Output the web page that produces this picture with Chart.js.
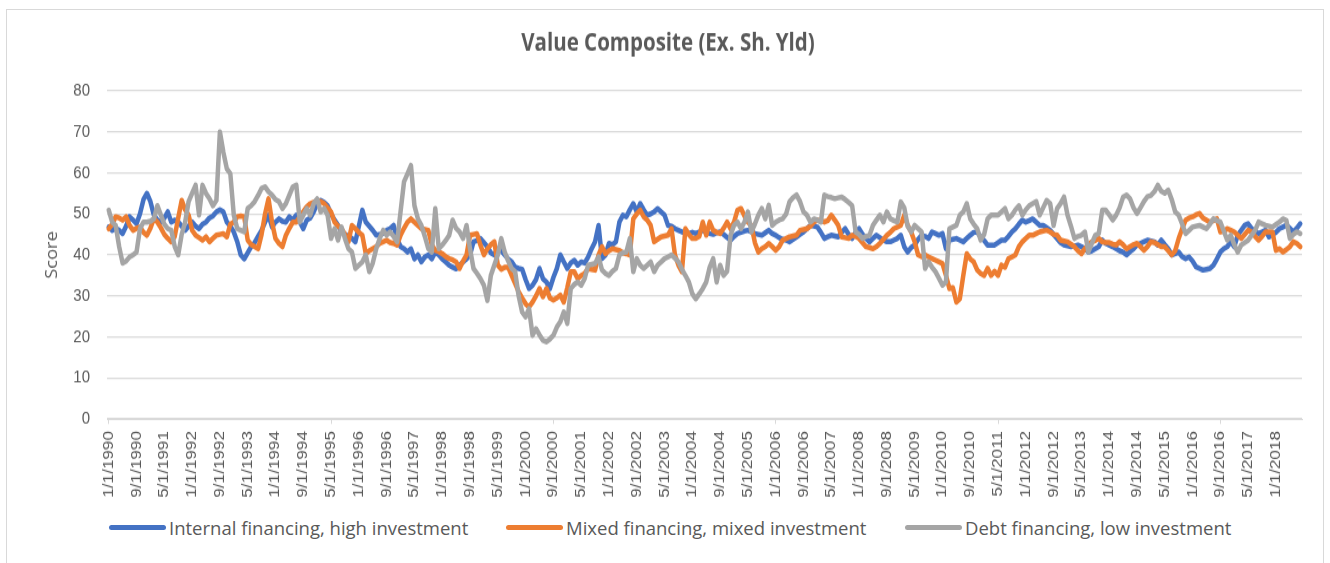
<!DOCTYPE html>
<html lang="en">
  <head>
    <meta charset="UTF-8" />
    <title>Value Composite (Ex. Sh. Yld)</title>
    <style>
      html,
      body {
        margin: 0;
        padding: 0;
        background: #fff;
        width: 1330px;
        height: 563px;
        overflow: hidden;
      }

      .frame {
        position: absolute;
        left: 6px;
        top: 9px;
        width: 1318px;
        height: 580px;
        border: 1px solid #d9d9d9;
        box-sizing: border-box;
      }

      /* the reference is drawn a bit taller than wide, so stretch the canvas */
      .stretch {
        position: absolute;
        left: 0;
        top: 0;
        transform: scaleY(1.18);
        transform-origin: 0 0;
      }

      .legend {
        position: absolute;
        left: 0;
        top: 514px;
        height: 26px;
        font-family: "Open Sans", sans-serif;
        font-size: 18.5px;
        color: #595959;
      }

      .legend-item {
        position: absolute;
        top: 0;
        height: 26px;
        display: flex;
        align-items: center;
        white-space: nowrap;
      }

      .legend-line {
        height: 5px;
        border-radius: 3px;
        margin-right: 3px;
      }
    </style>
  </head>
  <body>
    <div class="frame"></div>
    <div class="stretch">
      <canvas id="valueChart" width="1336" height="430"></canvas>
    </div>
    <div class="legend" id="legend"></div>

    <script src="https://cdn.jsdelivr.net/npm/chart.js"></script>
    <script>
      // monthly scores, 1/1990 .. 8/2018
      const internalHigh = [
        46.8, 46, 46.5, 46, 45.2, 47, 49.3, 48.5, 47.6, 50, 53.5, 55,
        53, 49.7, 48.5, 48, 49, 50.5, 48, 48.5, 48, 47, 46, 47,
        48, 47, 46.4, 47.5, 48, 49, 49.5, 50.5, 51, 50.5, 48, 47,
        45.6, 43.2, 40, 39, 40.5, 42, 43, 44.5, 46, 48, 49.7, 46.8,
        48, 48.8, 48.2, 48, 49.3, 48.5, 49.7, 48, 46.4, 48.5, 49, 50.5,
        52.5, 53.3, 52.8, 52, 50, 48.5, 47.2, 45.6, 45, 44.5, 44, 43.2,
        47, 50.9, 48, 47, 46, 44.8, 45, 45.2, 46, 46.4, 47.2, 44,
        42, 41.5, 40.7, 41.5, 39, 40, 38.3, 39.5, 40, 39, 40.7, 40,
        39, 38.3, 37.5, 37, 36.6, 37.5, 38.3, 39, 40, 43.2, 43.5, 44,
        43, 42, 40.5, 40, 41.5, 41, 40, 39, 38.3, 37, 36.7, 36.5,
        34, 31.8, 32.6, 34, 36.7, 34.2, 33.4, 31.8, 34.5, 36.7, 40, 38.3,
        36.7, 38, 38.7, 37.5, 38.3, 38, 39.5, 41.5, 43.2, 47.2, 39.1, 40,
        42.8, 42.5, 43.2, 48, 49.7, 49.3, 51, 52.5, 50.5, 52.5, 51, 49.7,
        50, 50.5, 51.3, 50.5, 49.7, 47.2, 47, 46.4, 46, 45.6, 45.4, 45.2,
        45.5, 45.2, 45.6, 46, 45.5, 45.2, 45, 45.4, 45.6, 45, 44.3, 43.6,
        44.5, 45.2, 45.5, 45.8, 46, 45.6, 45.2, 45, 44.8, 45.4, 46, 45.2,
        44.8, 44.2, 43.8, 43.6, 43.2, 43.8, 44.4, 45, 45.6, 46.4, 47.2, 47,
        46.8, 45.5, 44, 44.4, 44.8, 44.6, 44.4, 45.5, 46.4, 45, 44, 45.5,
        46.4, 45, 44, 43.2, 44, 44.8, 44.2, 43.6, 43.2, 43.2, 43.6, 44,
        44.8, 42, 40.7, 41.8, 42.4, 43.8, 44.8, 44.5, 44, 45.6, 45.2, 44.8,
        45.2, 41.5, 43.6, 43.8, 44, 43.6, 43.2, 44, 44.8, 45.5, 45.6, 44.4,
        43.5, 42.4, 42.4, 42.4, 43, 43.6, 43.6, 44.5, 45.6, 46.4, 47.5, 48.5,
        48, 48.4, 48.8, 48, 47.2, 47.2, 46.6, 46, 45, 44, 43, 42.4,
        42.2, 42, 42.2, 42.4, 42, 41.5, 40.7, 41, 41.5, 42, 43.6, 42.8,
        42.4, 42, 41.5, 41, 40.7, 40, 40.8, 41.5, 42.4, 42.8, 43.2, 43.6,
        43.4, 43.2, 42.4, 43.6, 42.5, 41.5, 40, 40.3, 40.7, 39.6, 39.1, 39.5,
        38.5, 37.1, 36.7, 36.3, 36.5, 36.7, 37.5, 39, 40.7, 41.5, 42, 43.2,
        42, 44.8, 46, 47.2, 47.6, 46.4, 45.8, 45.2, 45.6, 46, 44.4, 45,
        45.5, 46.4, 46.8, 47.2, 46.5, 45.6, 46.5, 47.6
      ];

      const mixedMixed = [
        46.4, 47.5, 49.3, 49, 48.5, 49.3, 47.2, 46, 46.5, 46.8, 45.5, 44.8,
        46.5, 48.9, 48, 46.6, 45, 44, 43.2, 44.5, 49, 53.3, 51, 49.7,
        46, 44.8, 44.2, 43.6, 44.4, 43.2, 44, 44.8, 45, 45.2, 44.4, 47.5,
        48, 49.3, 49.5, 49.3, 43.6, 42.5, 42, 41.5, 45, 50, 53.7, 48,
        44, 42.8, 42, 44.8, 46.5, 48, 48, 49.3, 50.5, 51.7, 52.5, 52.8,
        53.3, 53, 52.5, 51.5, 50.5, 48, 47, 46.4, 45, 43.2, 47.2, 46.4,
        45.5, 44.8, 40.3, 41, 41.5, 42, 42.8, 43.2, 43.6, 43, 42.8, 42.4,
        44.8, 46.5, 48, 48.8, 48, 47.2, 46.4, 46.2, 46, 42.4, 41.1, 40.8,
        40.3, 39.6, 39.1, 38.8, 38.3, 36.7, 38.5, 40, 44.8, 45, 45.2, 42.4,
        40, 41.5, 42.5, 43.2, 37.5, 36.5, 37, 37, 35, 33, 31, 29.5,
        28.1, 27.3, 28.5, 30, 31.8, 29.8, 31.8, 29.5, 29, 29.5, 30.2, 28.5,
        32, 35.9, 35.9, 34.2, 35, 35.5, 36.7, 36.5, 36.3, 40, 42, 40.3,
        41, 41.5, 41.3, 41.1, 40.5, 40.3, 40, 48.8, 50, 50.9, 49.3, 48.5,
        47.2, 43.2, 43.8, 44.4, 44.6, 44.8, 46.4, 40, 37.5, 35.9, 46.4, 45,
        44, 44, 44.5, 48, 44.8, 48, 46, 45.5, 45.2, 46.5, 48, 46.4,
        48, 50.9, 51.3, 49.5, 48, 47.2, 43, 40.7, 41.5, 42, 42.8, 42,
        41.1, 42, 43.6, 44, 44.4, 44.6, 44.8, 46, 46.2, 46.4, 47, 48,
        48.5, 48.3, 48, 48.4, 49.7, 48.5, 47.2, 44.4, 44.2, 44, 44.8, 44.5,
        44, 43, 42, 41.8, 41.5, 42, 42.8, 43.8, 44.8, 45.5, 46.4, 46.8,
        47.2, 49.7, 47.2, 45.6, 43.2, 40, 39.6, 40, 39.5, 39.1, 38.7, 38.3,
        37.9, 35, 31.8, 32, 28.5, 29.3, 35, 40.3, 39, 38.3, 36.3, 35.5,
        35, 36.7, 35, 36, 35, 37.5, 37, 39.1, 39.5, 40, 42, 43.2,
        44, 44.8, 44.8, 45.2, 45.6, 45.8, 46, 45.6, 45, 44.8, 43.6, 43.4,
        43.2, 42.6, 42, 41, 40.3, 41.5, 42.5, 43.2, 43.5, 44, 43.2, 43,
        43, 42.6, 42.4, 43.2, 42.5, 41.5, 42, 42.5, 42.8, 42, 41.1, 42,
        43.2, 43, 42.5, 42, 42, 41, 40, 41, 44, 46.4, 48.5, 49,
        49.3, 49.8, 50.1, 49, 48.5, 48, 48.4, 48.8, 45.6, 45.8, 46.4, 46,
        45.6, 44.8, 44, 45, 46, 45.6, 44.5, 43.6, 44.5, 45.6, 45.6, 45.6,
        41.1, 41.5, 40.7, 41.3, 42, 43.2, 42.8, 42
      ];

      const debtLow = [
        50.9, 48, 47.2, 42, 38, 38.5, 39.5, 40, 40.7, 46.4, 48, 48,
        48.2, 48.8, 52, 49.7, 47.5, 46.4, 46, 42, 40, 45, 48, 53,
        55, 57, 49.7, 57, 55, 53.7, 52, 53.3, 70, 65, 61, 59.8,
        49.7, 46.4, 46, 45.6, 51.3, 52, 53, 54.5, 56.2, 56.6, 55.4, 54.6,
        53.5, 53, 51.3, 52.5, 54.6, 56.6, 57, 48, 49.7, 51.3, 49.7, 52.5,
        53.7, 50.5, 51.3, 49.7, 44, 46.4, 43.6, 46.8, 44, 41.5, 40.7, 36.7,
        37.5, 38.3, 40, 35.9, 38, 41.5, 44, 46, 44.8, 45.6, 44.5, 43.2,
        50.5, 57.8, 59.8, 61.8, 52, 48.8, 47.2, 44.5, 41.5, 40.7, 51.3, 41.5,
        42.4, 43.5, 44.8, 48.5, 46.5, 45.6, 44, 47.2, 41.5, 36.7, 35.5, 34.2,
        32.6, 28.9, 35, 37.5, 40, 44, 40.7, 38.5, 36.7, 35.9, 30, 26.1,
        24.9, 26.9, 20.4, 22, 20.5, 19.2, 18.8, 19.5, 20.4, 22.4, 23.7, 26.1,
        23.3, 31.8, 32.8, 33.4, 32.6, 34.2, 37.5, 37.7, 37.9, 39.5, 36.3, 35.5,
        35, 36, 36.7, 40, 40.5, 40.7, 44, 35.9, 39.1, 37.5, 36.7, 37.5,
        38.3, 35.9, 37.5, 38.3, 39.1, 39.5, 40, 39.2, 38.3, 36.5, 35, 33.4,
        30.5, 29.3, 30.5, 31.8, 33.4, 37, 39.1, 33.4, 37.5, 35, 36, 44.8,
        47.2, 48, 46.4, 48, 50.5, 45.6, 47.5, 49.7, 51.3, 48.8, 52.1, 47.2,
        48, 48.5, 48.8, 50, 53, 54, 54.6, 53, 50.5, 49.7, 48, 48.8,
        48.5, 48, 54.6, 54.2, 54, 53.7, 53.9, 54.1, 53.5, 52.8, 52, 45.6,
        45, 44, 44.5, 44.8, 47.2, 48.5, 49.7, 48, 50.5, 48.8, 48.4, 48,
        52.9, 51.5, 47, 45.6, 47.2, 46.4, 45.6, 36.7, 38.3, 37, 35.9, 34.3,
        32.6, 33.4, 46.4, 46.8, 47.2, 49.7, 50.5, 52.5, 48.8, 47.5, 46.4, 43.6,
        45, 48.8, 49.7, 49.7, 49.7, 50.5, 51.3, 48.8, 49.7, 51, 52, 49.7,
        51, 52, 52.5, 53, 49.7, 51.5, 53.3, 52.5, 47.2, 51.3, 52.5, 54.1,
        49.7, 47, 44, 44.5, 44.8, 45.6, 40.7, 42.8, 44.8, 45.2, 50.9, 50.9,
        49.8, 48.5, 49.7, 51.5, 54.1, 54.6, 53.7, 51.5, 50.1, 51.5, 53, 54.2,
        54.5, 55.4, 57, 55.5, 55, 55.8, 53.5, 50.5, 49.7, 47.5, 45.2, 46,
        46.8, 47, 47.2, 46.8, 46.4, 47.5, 48.8, 48.4, 48, 45.8, 43.6, 44.8,
        42.5, 40.7, 42.4, 43, 43.6, 44.8, 46, 48, 47.6, 47.2, 47, 46.8,
        47.4, 48, 48.8, 48.4, 44, 45, 45.6, 45.2
      ];

      const seriesNames = [
        "Internal financing, high investment",
        "Mixed financing, mixed investment",
        "Debt financing, low investment",
      ];
      const seriesColors = ["#4472c4", "#ed7d31", "#a5a5a5"];

      // category labels M/1/YYYY, one per month
      const months = [];
      for (let i = 0; i < internalHigh.length; i++) {
        const year = 1990 + Math.floor(i / 12);
        months.push((i % 12) + 1 + "/1/" + year);
      }

      const tickEvery = 8;
      const gridGray = "#d9d9d9";
      const textGray = "#595959";

      const valueChart = new Chart(document.getElementById("valueChart"), {
        type: "line",
        data: {
          labels: months,
          datasets: [internalHigh, mixedMixed, debtLow].map((values, i) => ({
            label: seriesNames[i],
            data: values,
            borderColor: seriesColors[i],
            backgroundColor: seriesColors[i],
            borderWidth: 4.5,
            pointRadius: 0,
            tension: 0,
            borderJoinStyle: "round",
            borderCapStyle: "round",
            order: 2 - i,
          })),
        },
        options: {
          responsive: false,
          animation: false,
          devicePixelRatio: 1,
          // left/right padding equal so the title centres like the original
          layout: { padding: { left: 34, right: 34, top: 0, bottom: 0 } },
          plugins: {
            legend: { display: false },
            tooltip: { enabled: false },
            title: {
              display: true,
              text: "Value Composite (Ex. Sh. Yld)",
              color: textGray,
              font: { family: "Open Sans", size: 20.5, weight: "bold" },
              padding: { top: 25, bottom: 27.3 },
            },
          },
          scales: {
            x: {
              type: "category",
              offset: true,
              afterFit: (scale) => {
                scale.height = 74.9;
              },
              border: { display: true, color: gridGray, width: 1 },
              grid: {
                drawOnChartArea: false,
                drawTicks: true,
                tickLength: 4.2,
                color: (ctx) =>
                  ctx.index % tickEvery === 0 ? gridGray : "rgba(0,0,0,0)",
              },
              ticks: {
                autoSkip: false,
                minRotation: 90,
                maxRotation: 90,
                padding: 6,
                color: textGray,
                font: { family: "Liberation Sans", size: 14.5 },
                callback: function (value, index) {
                  return index % tickEvery === 0
                    ? this.getLabelForValue(value)
                    : null;
                },
              },
            },
            y: {
              min: 0,
              max: 80,
              afterFit: (scale) => {
                scale.width = 73;
              },
              border: { display: false },
              grid: { color: gridGray, lineWidth: 1.2, drawTicks: false },
              ticks: {
                stepSize: 10,
                padding: 17,
                color: textGray,
                font: { family: "Liberation Sans", size: 15 },
              },
              title: {
                display: true,
                text: "Score",
                color: textGray,
                font: { family: "Open Sans", size: 15.5 },
                padding: { top: 9.2, bottom: 0 },
              },
            },
          },
        },
      });

      // legend below the plot, as in the spreadsheet export
      const legendLeft = [109, 506, 905];
      const legendBox = document.getElementById("legend");
      seriesNames.forEach((name, i) => {
        const item = document.createElement("div");
        item.className = "legend-item";
        item.style.left = legendLeft[i] + "px";
        const line = document.createElement("span");
        line.className = "legend-line";
        line.style.width = "57px";
        line.style.background = seriesColors[i];
        const label = document.createElement("span");
        label.textContent = name;
        item.appendChild(line);
        item.appendChild(label);
        legendBox.appendChild(item);
      });
    </script>
  </body>
</html>
